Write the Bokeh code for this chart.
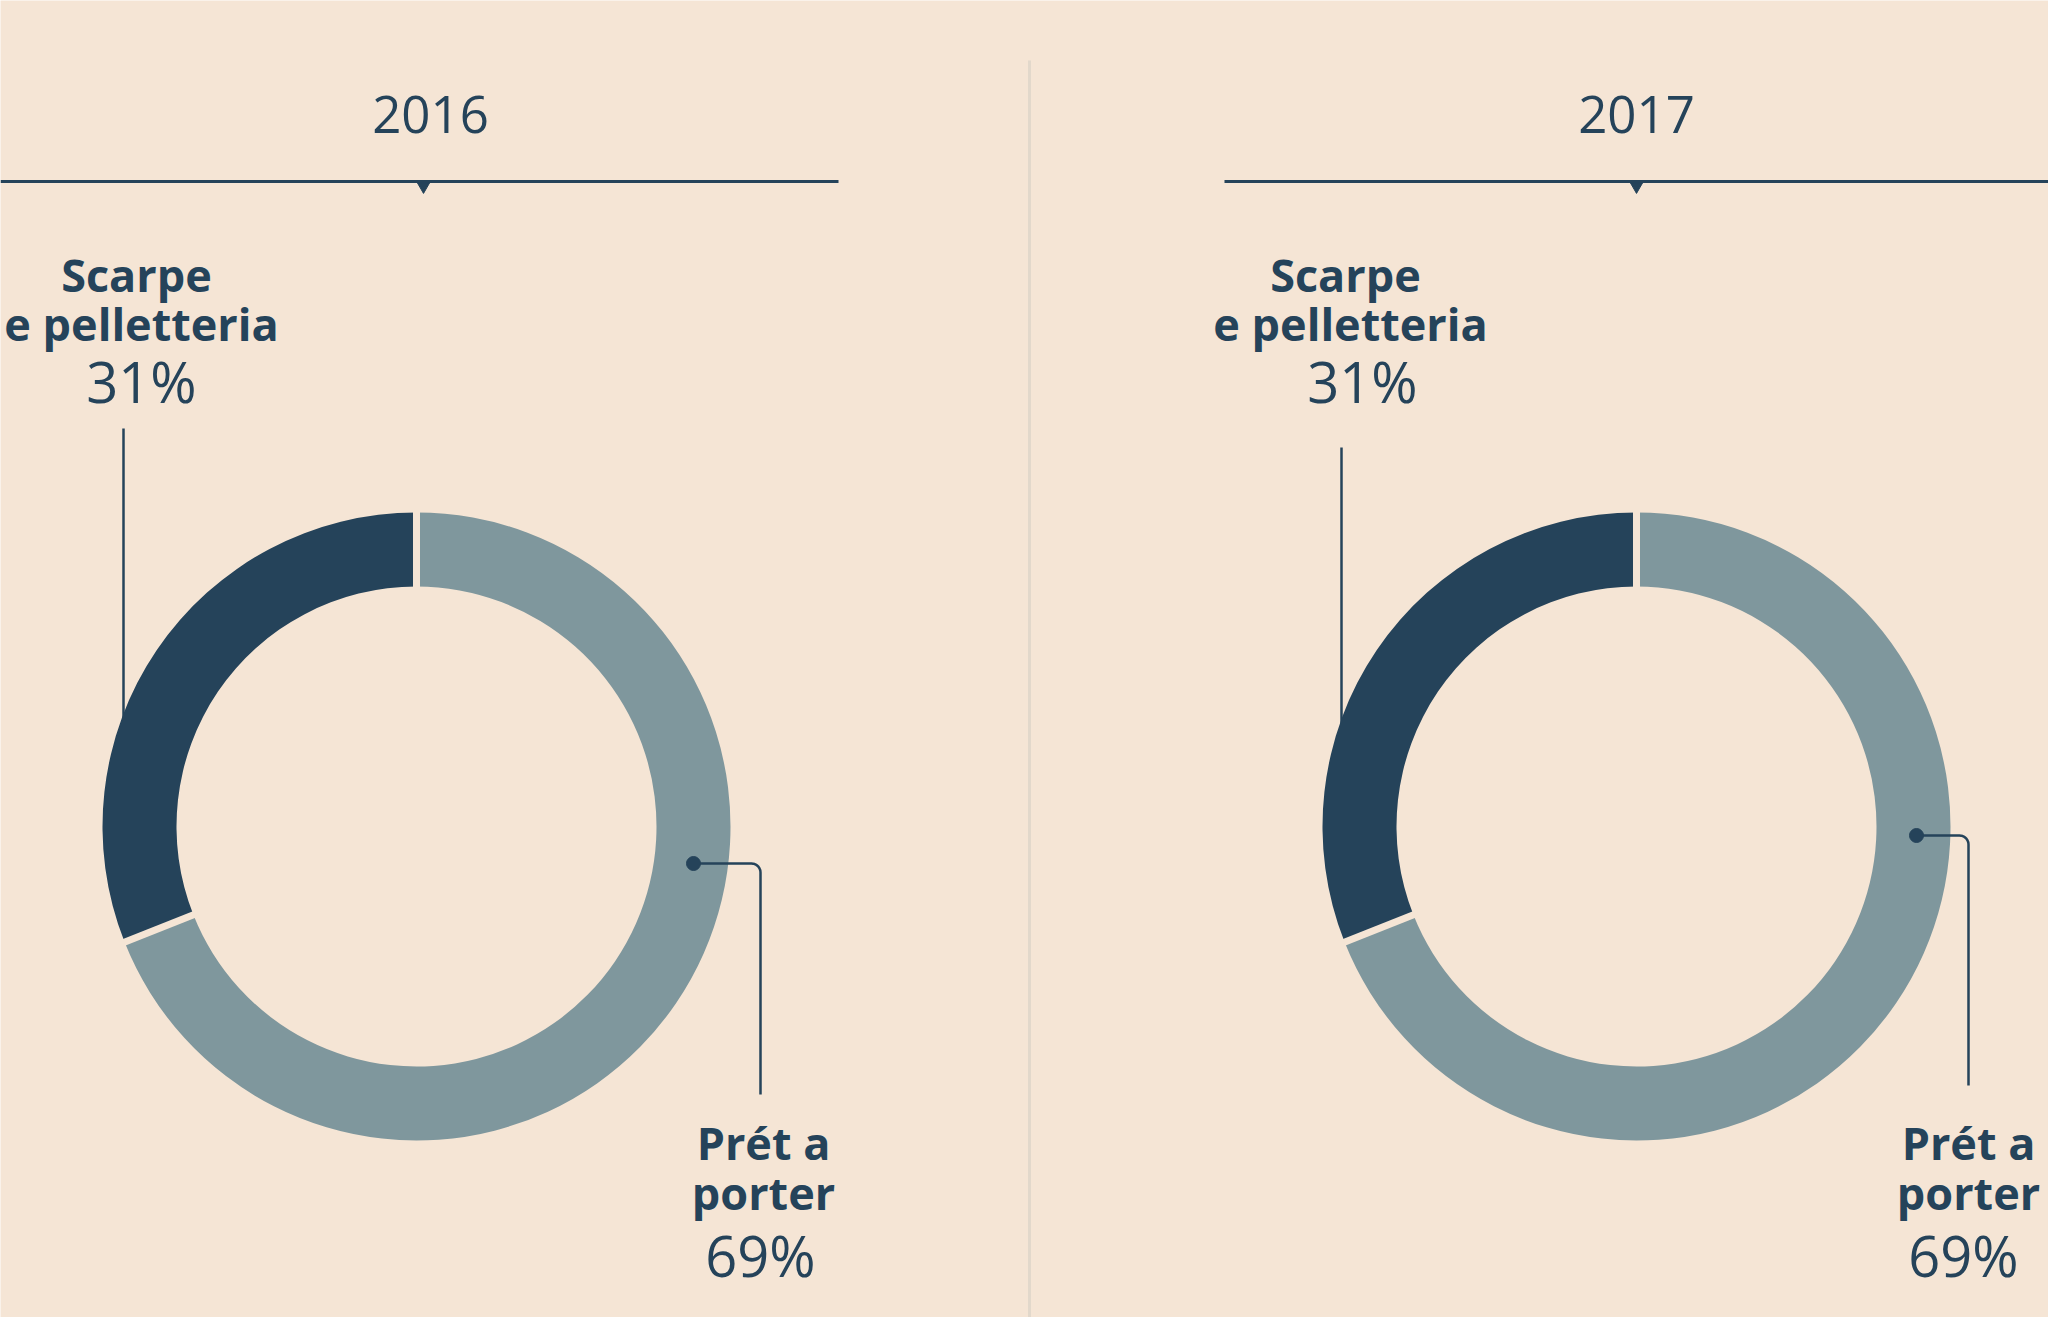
import numpy as np
from bokeh.plotting import figure
from bokeh.models import Range1d
from bokeh.embed import file_html
from bokeh.resources import INLINE
from bokeh.core.properties import value

# ---- data ----
years = ["2016", "2017"]
cat_names = ["Scarpe e pelletteria", "Prét a porter"]
cat_line1 = ["Scarpe", "Prét a"]
cat_line2 = ["e pelletteria", "porter"]
shares = {"2016": [31, 69], "2017": [31, 69]}

# ---- style / layout ----
BG = "#F5E5D5"
DARK = "#25435A"
LIGHT = "#7F979D"
DIVIDER = "#E2D8CB"
FONT = "Open Sans"

PAGE_H = 1317
W, H = 2048, 1317
R_OUT, R_IN = 314, 240

def Y(py):
    return PAGE_H - py

panels = [
    dict(cx=416, cy=826, title_x=430, tri_x=423, lx0=0, lx1=838,
         sc_x=[136, 141, 141], sc_lead_x=123, sc_lead_y0=428,
         pr_x=[763, 763, 760], dot=(693, 863), pr_vx=760, pr_bottom=1094),
    dict(cx=1636, cy=826, title_x=1636, tri_x=1636, lx0=1224, lx1=2048,
         sc_x=[1345, 1350, 1362], sc_lead_x=1341, sc_lead_y0=447,
         pr_x=[1968, 1968, 1963], dot=(1916, 835), pr_vx=1968, pr_bottom=1085),
]

p = figure(width=W, height=H, x_range=Range1d(0, W),
           y_range=Range1d(PAGE_H - H, PAGE_H),
           output_backend="svg", toolbar_location=None, min_border=0)
p.axis.visible = False
p.grid.visible = False
p.outline_line_color = None
p.background_fill_color = BG
p.border_fill_color = BG

# divider
p.segment(x0=[1029], y0=[Y(60)], x1=[1029], y1=[Y(1317)], line_color=DIVIDER, line_width=3)

for year, pn in zip(years, panels):
    vals = shares[year]
    cx, cy = pn["cx"], Y(pn["cy"])

    # title and rule
    p.text(x=[pn["title_x"]], y=[Y(114)], text=[year], text_align="center",
           text_baseline="middle", text_font=value(FONT), text_font_size="51px",
           text_color=DARK)
    p.segment(x0=[pn["lx0"]], y0=[Y(181)], x1=[pn["lx1"]], y1=[Y(181)],
              line_color=DARK, line_width=3)
    p.scatter(x=[pn["tri_x"]], y=[Y(186)], marker="inverted_triangle", size=12,
              fill_color=DARK, line_color=DARK)

    # leader for first category (drawn under ring)
    p.segment(x0=[pn["sc_lead_x"]], y0=[Y(pn["sc_lead_y0"])], x1=[pn["sc_lead_x"]],
              y1=[Y(760)], line_color=DARK, line_width=2.5)

    # ring
    total = float(sum(vals))
    start = np.pi / 2
    bounds = [start]
    colors = [DARK, LIGHT]
    for v, c in zip(vals, colors):
        end = start + 2 * np.pi * v / total
        p.annular_wedge(x=[cx], y=[cy], inner_radius=R_IN, outer_radius=R_OUT,
                        start_angle=start, end_angle=end, direction="anticlock",
                        fill_color=c, line_color=None)
        start = end
        bounds.append(end)
    # gaps between slices
    for a in bounds[:-1]:
        p.segment(x0=[cx + (R_IN - 5) * np.cos(a)], y0=[cy + (R_IN - 5) * np.sin(a)],
                  x1=[cx + (R_OUT + 5) * np.cos(a)], y1=[cy + (R_OUT + 5) * np.sin(a)],
                  line_color=BG, line_width=7)

    # first category label
    ys = [274, 323, 380]
    p.text(x=[pn["sc_x"][0]], y=[Y(ys[0])], text=[cat_line1[0]], text_align="center",
           text_baseline="middle", text_font=value(FONT), text_font_style="bold",
           text_font_size="45px", text_color=DARK)
    p.text(x=[pn["sc_x"][1]], y=[Y(ys[1])], text=[cat_line2[0]], text_align="center",
           text_baseline="middle", text_font=value(FONT), text_font_style="bold",
           text_font_size="45px", text_color=DARK)
    p.text(x=[pn["sc_x"][2]], y=[Y(ys[2])], text=[f"{vals[0]}%"], text_align="center",
           text_baseline="middle", text_font=value(FONT),
           text_font_size="56px", text_color=DARK)

    # second category leader with rounded corner
    dx, dy = pn["dot"]
    vx = pn["pr_vx"]
    r = 9
    t = np.linspace(-np.pi / 2, 0, 10)
    arc_x = (vx - r) + r * np.cos(t)
    arc_y = (dy + r) + r * np.sin(t)
    xs = [dx] + list(arc_x) + [vx]
    ysl = [dy] + list(arc_y) + [pn["pr_bottom"]]
    p.line(x=xs, y=[Y(v) for v in ysl], line_color=DARK, line_width=2.5)
    p.scatter(x=[dx], y=[Y(dy)], size=14, fill_color=DARK, line_color=DARK)

    ys2 = [1142, 1192, 1254]
    p.text(x=[pn["pr_x"][0]], y=[Y(ys2[0])], text=[cat_line1[1]], text_align="center",
           text_baseline="middle", text_font=value(FONT), text_font_style="bold",
           text_font_size="45px", text_color=DARK)
    p.text(x=[pn["pr_x"][1]], y=[Y(ys2[1])], text=[cat_line2[1]], text_align="center",
           text_baseline="middle", text_font=value(FONT), text_font_style="bold",
           text_font_size="45px", text_color=DARK)
    p.text(x=[pn["pr_x"][2]], y=[Y(ys2[2])], text=[f"{vals[1]}%"], text_align="center",
           text_baseline="middle", text_font=value(FONT),
           text_font_size="56px", text_color=DARK)

html = file_html(p, INLINE)
html = html.replace("<body>", '<body style="background:%s">' % BG, 1)
open("out.html", "w").write(html)
